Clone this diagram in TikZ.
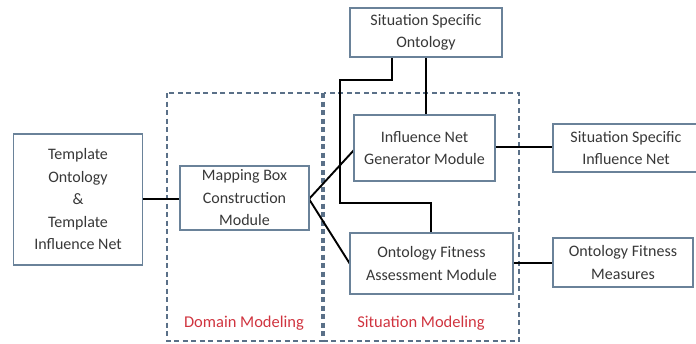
\documentclass[tikz,border=0pt]{standalone}
\usepackage{fontspec}
\setmainfont{Carlito}
\definecolor{boxline}{HTML}{6A8299}
\definecolor{frameline}{HTML}{5A7088}
\definecolor{txt}{HTML}{383838}
\definecolor{redlabel}{HTML}{D0343F}
\tikzset{
  module/.style={draw=boxline, line width=1.3pt, fill=white, text=txt,
    font=\fontsize{16}{22.5}\selectfont, align=center, inner sep=0pt},
  link/.style={draw=black, line width=1.9pt},
  region/.style={draw=frameline, line width=1.1pt, dash pattern=on 5pt off 3.5pt},
  regionlabel/.style={text=redlabel, font=\fontsize{16.5}{20}\selectfont}
}
\begin{document}
\begin{tikzpicture}[x=1pt,y=-1pt]
\useasboundingbox (0,0) rectangle (696,343);

% dashed modeling regions
\draw[region] (167,93) rectangle (322,341);
\draw[region] (324,93) rectangle (519,341);
\node[regionlabel] (domlab) at (244,323) {Domain Modeling};
\node[regionlabel] (sitlab) at (421,323) {Situation Modeling};

% junction points of the ontology feed
\coordinate (j1) at (392,80);
\coordinate (j2) at (340,80);
\coordinate (j3) at (340,203);
\coordinate (j4) at (431,203);
\coordinate (mfork) at (309,199);

% connectors (drawn first, boxes cover their ends)
\draw[link] (143,199) -- (180,199);
\draw[link] (mfork) -- (354,150);
\draw[link] (mfork) -- (350,264);
\draw[link] (392,57) -- (j1) -- (j2) -- (j3) -- (j4) -- (431,233);
\draw[link] (426,57) -- (426,115);
\draw[link] (495,147) -- (553,147);
\draw[link] (513,263) -- (553,263);

% modules
\node[module, minimum width=129pt, minimum height=131pt] (tmpl) at (78,199.5)
  {Template\\Ontology\\\&\\Template\\Influence Net};
\node[module, minimum width=129pt, minimum height=64pt] (map) at (244.5,198)
  {Mapping Box\\Construction\\Module};
\node[module, minimum width=152pt, minimum height=49pt] (sso) at (426,32.5)
  {Situation Specific\\Ontology};
\node[module, minimum width=141pt, minimum height=66pt] (ing) at (424.5,148)
  {Influence Net\\Generator Module};
\node[module, minimum width=163pt, minimum height=61pt] (ofa) at (431.5,263.5)
  {Ontology Fitness\\Assessment Module};
\node[module, minimum width=146pt, minimum height=48pt] (ssin) at (626,148)
  {Situation Specific\\Influence Net};
\node[module, minimum width=140pt, minimum height=49pt] (ofm) at (623,262.5)
  {Ontology Fitness\\Measures};
\end{tikzpicture}
\end{document}
